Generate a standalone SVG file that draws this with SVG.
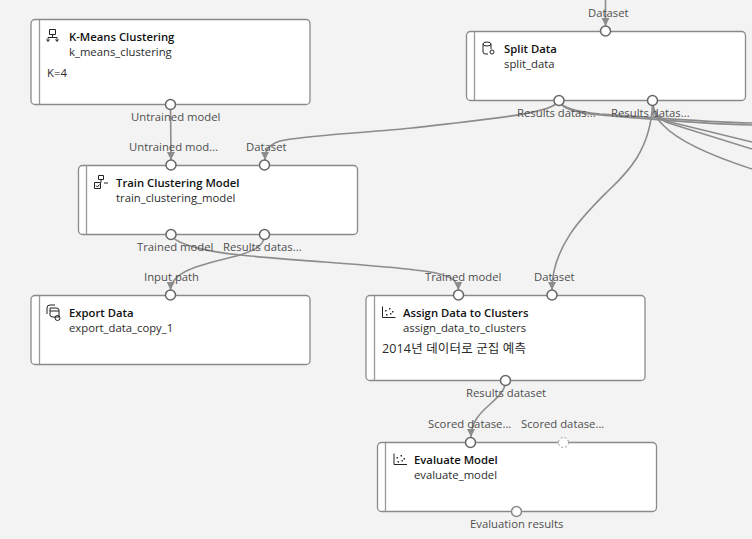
<svg xmlns="http://www.w3.org/2000/svg" width="752" height="539" viewBox="0 0 752 539">
<style>
text{font-family:"Open Sans","Noto Sans CJK KR",sans-serif;font-size:11.3px;fill:#1c1c1c}
.t{font-weight:600;fill:#111}
.d{fill:#2b2b2b}
.p{fill:#4f4f4f}
.box{fill:#fff;stroke:#8a8a8a;stroke-width:1.3}
.bar{stroke:#999;stroke-width:1.3;fill:none}
.port{fill:#fff;stroke:#666;stroke-width:1.5}
.c{fill:none;stroke:#8c8c8c;stroke-width:1.6}
.i{fill:none;stroke:#222;stroke-width:1}
</style>
<defs><marker id="a" markerUnits="userSpaceOnUse" markerWidth="9" markerHeight="10" refX="8" refY="5" orient="auto"><path d="M0,1 L8,5 L0,9 Z" fill="#8c8c8c"/></marker></defs>
<rect width="752" height="539" fill="#f3f3f3"/>
<g id="connectors">
<path class="c" marker-end="url(#a)" d="M170.500,105 L171,160"/>
<path class="c" marker-end="url(#a)" d="M559,101 C552,113 500,118 412,128 C350,134 300,136 280,141 C268,145 265,150 265,160"/>
<path class="c" marker-end="url(#a)" d="M171,235 C176,245 210,252 240,255 C300,261 376,265 415,270 C445,273 458,278 458.500,290"/>
<path class="c" marker-end="url(#a)" d="M264.500,235 C264,246 255,250 240,255 C215,262 171,268 170.500,290"/>
<path class="c" marker-end="url(#a)" d="M652.500,101 C652,150 625,175 609,190 C585,214 552,245 552,290"/>
<path class="c" marker-end="url(#a)" d="M605.500,0 L605.500,26"/>
<path class="c" marker-end="url(#a)" d="M505.500,381 C505,402 471,408 471,437"/>
<path class="c" d="M559,101 C562,110 580,113 600,115 C650,119 700,124 752,125"/>
<path class="c" d="M559,101 C562,109 580,112 600,114 C650,117 700,122 752,123"/>
<path class="c" d="M652.500,101 C653,115 660,119 670,122 L752,142"/>
<path class="c" d="M652.500,101 C653,115 660,120 670,123.500 L752,149"/>
<path class="c" d="M652.500,101 C653,115 658,120 663,125 C680,143 715,157 752,169"/>
</g>
<g id="k-means">
<rect class="box" x="31" y="19.500" width="279" height="85" rx="4"/><path class="bar" d="M39.500,20V104"/>
<path class="i" d="M49.500,29.500h6v5h-6zM52.500,34.500v3M48,41v-3.500h9V41M46.500,39.500L48,41.500L49.500,39.500M55.500,39.500L57,41.500L58.500,39.500"/>
<text class="t" x="69" y="41">K-Means Clustering</text><text class="d" x="69" y="56">k_means_clustering</text><text class="d" x="47" y="77">K=4</text>
</g>
<g id="train">
<rect class="box" x="78.500" y="165.500" width="279" height="69" rx="4"/><path class="bar" d="M86.500,166V234"/>
<path class="i" d="M98.500,175.500h5v4h-5zM94.500,182.500h6v6h-6zM101,179.500v3M104,183h4M96,185.500l1.500,1.500l2,-2.500"/>
<text class="t" x="116" y="187">Train Clustering Model</text><text class="d" x="116" y="202">train_clustering_model</text>
</g>
<g id="split">
<rect class="box" x="466.500" y="31.500" width="279" height="69" rx="4"/><path class="bar" d="M474.500,32V100"/>
<path class="i" d="M483,44v8q0,2 3,2h2M483,44q0,-2 4,-2t4,2v5M483,44q0,2 4,2t4,-2"/><circle class="i" cx="492" cy="52" r="2"/>
<text class="t" x="504" y="53">Split Data</text><text class="d" x="504" y="68">split_data</text>
</g>
<g id="export">
<rect class="box" x="31" y="295.500" width="279" height="69" rx="4"/><path class="bar" d="M39.500,296V364"/>
<path class="i" d="M50,308v7q0,2 3,2h6v-7q0,-2 -3,-2zM50,311h9M47,314v-6q0,-3 3,-3h5"/><circle class="i" cx="57.500" cy="318" r="2.500"/>
<text class="t" x="69" y="317">Export Data</text><text class="d" x="69" y="332">export_data_copy_1</text>
</g>
<g id="assign">
<rect class="box" x="366" y="295.500" width="279" height="85" rx="4"/><path class="bar" d="M374.500,296V380"/>
<path class="i" d="M382.500,306.500v11h13"/><path d="M385,310h1.500v1.500h-1.500zM389,308h1.500v1.500h-1.500zM392,311h1.500v1.500h-1.500zM386,314h1.500v1.500h-1.500zM390,313h1.500v1.500h-1.500z" fill="#333"/>
<text class="t" x="403" y="317">Assign Data to Clusters</text><text class="d" x="403" y="332">assign_data_to_clusters</text><text class="d" x="382" y="353" style="font-size:12.500px" textLength="144">2014년 데이터로 군집 예측</text>
</g>
<g id="evaluate">
<rect class="box" x="377.500" y="442.500" width="279" height="69" rx="4"/><path class="bar" d="M385.500,443V511"/>
<path class="i" d="M394,453.500v11h13"/><path d="M396.500,457h1.500v1.500h-1.500zM400.500,455h1.500v1.500h-1.500zM403.500,458h1.500v1.500h-1.500zM397.500,461h1.500v1.500h-1.500zM401.500,460h1.500v1.500h-1.500z" fill="#333"/>
<text class="t" x="414" y="464">Evaluate Model</text><text class="d" x="414" y="479">evaluate_model</text>
</g>
<g id="labels">
<text class="p" x="131" y="121">Untrained model</text>
<text class="p" x="129" y="151">Untrained mod...</text>
<text class="p" x="246" y="151">Dataset</text>
<text class="p" x="137" y="251">Trained model</text>
<text class="p" x="223" y="251">Results datas...</text>
<text class="p" x="144" y="281">Input path</text>
<text class="p" x="425" y="281">Trained model</text>
<text class="p" x="534" y="281">Dataset</text>
<text class="p" x="466" y="397">Results dataset</text>
<text class="p" x="428" y="428">Scored datase...</text>
<text class="p" x="521" y="428">Scored datase...</text>
<text class="p" x="470" y="528">Evaluation results</text>
<text class="p" x="588" y="17">Dataset</text>
<text class="p" x="517" y="117">Results datas...</text>
<text class="p" x="611" y="117">Results datas...</text>
</g>
<g id="ports">
<circle class="port" cx="170.500" cy="104.500" r="5"/>
<circle class="port" cx="171" cy="165" r="5"/><circle class="port" cx="264.500" cy="165" r="5"/>
<circle class="port" cx="171" cy="234.500" r="5"/><circle class="port" cx="264.500" cy="234.500" r="5"/>
<circle class="port" cx="170.500" cy="295" r="5"/>
<circle class="port" cx="458.500" cy="295" r="5"/><circle class="port" cx="552" cy="295" r="5"/>
<circle class="port" cx="505.500" cy="380.500" r="5"/>
<circle class="port" cx="470.500" cy="442.500" r="5"/>
<circle class="port" cx="563.500" cy="442.500" r="5" stroke-dasharray="2 2" style="stroke:#999;stroke-width:1"/>
<circle class="port" cx="516.500" cy="511.500" r="5" style="stroke:#888"/>
<circle class="port" cx="605.500" cy="31" r="5"/>
<circle class="port" cx="559" cy="100.500" r="5"/><circle class="port" cx="652.500" cy="100.500" r="5"/>
</g>
</svg>
